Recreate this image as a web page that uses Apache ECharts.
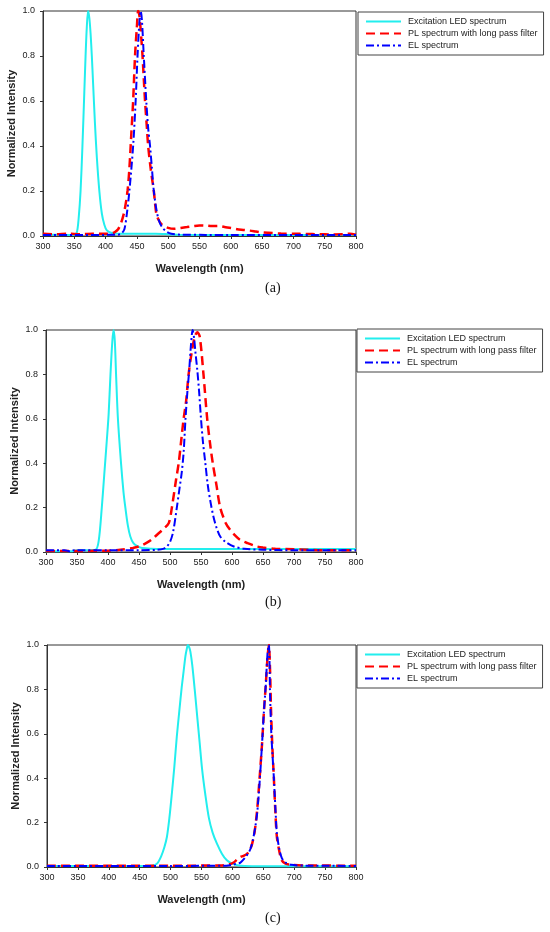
<!DOCTYPE html>
<html>
<head>
<meta charset="utf-8">
<script src="https://cdn.jsdelivr.net/npm/echarts@6/dist/echarts.min.js"></script>
<style>
    html, body { margin: 0; padding: 0; background: #fff; }
    #chart { width: 550px; height: 932px; }
</style>
</head>
<body>
<div id="chart"></div>
<script>
//////////////////////////////////////////////////////////////////
// [ Data ]

const seriesNames = ['Excitation LED spectrum', 'PL spectrum with long pass filter', 'EL spectrum'];
const xTicks = { min: 300, max: 800, step: 50 };
const yTicks = { min: 0, max: 1, step: 0.2 };
const captions = ['a', 'b', 'c'];

// (a)
const exA_wl = [300, 320, 340, 350, 354, 357, 360, 363, 366, 368, 370, 372, 374, 376, 378, 380, 383, 386, 390, 394, 398, 402, 410, 420, 450, 480, 500, 520, 600, 700, 800];
const exA_v  = [0.006, 0.006, 0.005, 0.006, 0.015, 0.08, 0.2, 0.4, 0.64, 0.8, 0.93, 1.0, 0.97, 0.9, 0.8, 0.68, 0.5, 0.35, 0.2, 0.1, 0.05, 0.025, 0.013, 0.01, 0.01, 0.01, 0.008, 0.005, 0.004, 0.004, 0.004];

const plA_wl = [300, 320, 340, 360, 380, 400, 410, 415, 420, 425, 430, 435, 438, 441, 444, 447, 450, 452, 454, 457, 459, 463, 466, 468, 472, 477, 481, 485, 490, 500, 510, 520, 530, 540, 550, 560, 570, 580, 590, 600, 610, 620, 630, 640, 650, 660, 680, 700, 720, 740, 760, 780, 790, 800];
const plA_v  = [0.01, 0.008, 0.01, 0.008, 0.01, 0.01, 0.012, 0.018, 0.03, 0.06, 0.11, 0.2, 0.3, 0.45, 0.6, 0.8, 0.93, 1.0, 0.98, 0.88, 0.8, 0.6, 0.48, 0.4, 0.3, 0.2, 0.1, 0.07, 0.05, 0.036, 0.032, 0.036, 0.04, 0.044, 0.047, 0.046, 0.044, 0.045, 0.04, 0.036, 0.03, 0.027, 0.024, 0.02, 0.016, 0.014, 0.011, 0.01, 0.009, 0.008, 0.007, 0.008, 0.01, 0.006];

const elA_wl = [300, 350, 400, 420, 425, 430, 434, 438, 444, 448, 451, 454, 456, 458, 461, 465, 468, 471, 474, 477, 481, 485, 490, 497, 505, 520, 560, 600, 700, 800];
const elA_v  = [0.005, 0.005, 0.005, 0.006, 0.01, 0.03, 0.1, 0.2, 0.4, 0.6, 0.8, 0.95, 1.0, 0.96, 0.8, 0.6, 0.48, 0.4, 0.3, 0.2, 0.12, 0.07, 0.04, 0.02, 0.01, 0.006, 0.005, 0.005, 0.004, 0.004];

// (b)
const exB_wl = [300, 340, 350, 370, 380, 385, 390, 394, 398, 401, 404, 407, 409, 411, 413, 416, 421, 425, 428, 432, 436, 441, 448, 455, 470, 500, 600, 700, 800];
const exB_v  = [0.003, 0.003, 0.008, 0.008, 0.01, 0.05, 0.2, 0.35, 0.5, 0.62, 0.8, 0.95, 1.0, 0.95, 0.8, 0.6, 0.4, 0.27, 0.2, 0.12, 0.07, 0.04, 0.025, 0.018, 0.015, 0.013, 0.013, 0.013, 0.013];

const plB_wl = [300, 350, 400, 420, 440, 450, 460, 470, 480, 490, 498, 503, 510, 514, 518, 522, 526, 530, 535, 540, 544, 548, 554, 560, 565, 569, 575, 581, 590, 597, 605, 613, 625, 640, 650, 670, 700, 750, 800];
const plB_v  = [0.005, 0.005, 0.006, 0.01, 0.018, 0.025, 0.038, 0.055, 0.08, 0.105, 0.13, 0.2, 0.33, 0.4, 0.5, 0.6, 0.68, 0.8, 0.9, 0.97, 0.99, 0.97, 0.8, 0.6, 0.48, 0.4, 0.3, 0.2, 0.13, 0.1, 0.075, 0.055, 0.04, 0.025, 0.02, 0.015, 0.012, 0.008, 0.008];

const elB_wl = [300, 330, 340, 345, 360, 400, 450, 480, 490, 495, 500, 505, 511, 515, 519, 522, 525, 528, 531, 534, 536.5, 539, 541, 544, 547, 550, 553, 557, 561, 565, 570, 575, 581, 590, 603, 620, 650, 700, 750, 800];
const elB_v  = [0.008, 0.008, 0.002, 0.008, 0.008, 0.008, 0.008, 0.01, 0.015, 0.025, 0.045, 0.09, 0.2, 0.28, 0.36, 0.45, 0.6, 0.72, 0.82, 0.94, 1.0, 0.96, 0.9, 0.82, 0.72, 0.6, 0.5, 0.4, 0.3, 0.23, 0.16, 0.11, 0.07, 0.045, 0.025, 0.015, 0.01, 0.008, 0.008, 0.008];

// (c)
const exC_wl = [300, 400, 460, 470, 478, 485, 490, 494, 498, 502, 506, 510, 514, 518, 521, 524, 526, 528, 530, 532, 535, 539, 543, 547, 551, 556, 562, 568, 575, 583, 591, 600, 608, 620, 650, 700, 800];
const exC_v  = [0.004, 0.004, 0.004, 0.006, 0.015, 0.05, 0.09, 0.135, 0.22, 0.33, 0.45, 0.586, 0.7, 0.81, 0.88, 0.95, 0.98, 1.0, 0.99, 0.97, 0.91, 0.8, 0.68, 0.56, 0.44, 0.33, 0.22, 0.155, 0.105, 0.06, 0.03, 0.015, 0.008, 0.004, 0.003, 0.003, 0.003];

const plC_wl = [300, 400, 500, 580, 595, 602, 608, 613, 618, 624, 628, 632, 636, 640, 644, 648, 651, 654, 657, 659, 661, 662.5, 664.5, 667, 669.5, 672, 676, 680, 686, 695, 720, 800];
const plC_v  = [0.006, 0.006, 0.006, 0.007, 0.012, 0.02, 0.035, 0.045, 0.05, 0.06, 0.075, 0.105, 0.16, 0.256, 0.4, 0.556, 0.7, 0.82, 0.95, 1.0, 0.88, 0.707, 0.55, 0.406, 0.25, 0.135, 0.07, 0.03, 0.015, 0.01, 0.007, 0.006];

const elC_wl = [300, 400, 500, 590, 600, 607, 613, 620, 625, 629, 633, 637, 640, 644, 648, 651, 654, 657, 659, 661, 663, 665, 667, 669.5, 672, 676, 680, 686, 695, 720, 800];
const elC_v  = [0.005, 0.005, 0.005, 0.006, 0.01, 0.015, 0.02, 0.04, 0.06, 0.08, 0.12, 0.18, 0.24, 0.38, 0.556, 0.7, 0.82, 0.97, 1.0, 0.77, 0.6, 0.5, 0.406, 0.27, 0.15, 0.08, 0.04, 0.02, 0.01, 0.006, 0.005];

const panels = [
    [[exA_wl, exA_v], [plA_wl, plA_v], [elA_wl, elA_v]],
    [[exB_wl, exB_v], [plB_wl, plB_v], [elB_wl, elB_v]],
    [[exC_wl, exC_v], [plC_wl, plC_v], [elC_wl, elC_v]]
];

//////////////////////////////////////////////////////////////////
// [ Layout ]

const grids = [
    { left: 43, top: 11, width: 313, height: 225 },
    { left: 46, top: 330, width: 310, height: 222 },
    { left: 47, top: 645, width: 309, height: 222 }
];
const legendPos = [
    { left: 358, top: 12 },
    { left: 357, top: 329 },
    { left: 357, top: 645 }
];
const captionY = [289, 603, 919];

const lineStyles = [
    { color: '#22eeee', width: 2, type: 'solid' },
    { color: '#ff0000', width: 2.5, type: [9, 5] },
    { color: '#0000ff', width: 2, type: [8, 3, 2, 3] }
];

const font = 'Liberation Sans, Arial, sans-serif';

function zip(xs, ys) {
    return xs.map((x, i) => [x, ys[i]]);
}

//////////////////////////////////////////////////////////////////
// [ Chart ]

const chart = echarts.init(document.getElementById('chart'));

const xAxes = grids.map((g, i) => ({
    type: 'value',
    gridIndex: i,
    min: xTicks.min,
    max: xTicks.max,
    interval: xTicks.step,
    name: 'Wavelength (nm)',
    nameLocation: 'middle',
    nameGap: 27,
    nameTextStyle: { fontFamily: font, fontSize: 11, fontWeight: 'bold', color: '#222' },
    axisLine: { lineStyle: { color: '#333', width: 1 } },
    axisTick: { show: true, length: 3, lineStyle: { color: '#333' } },
    axisLabel: { fontFamily: font, fontSize: 9, color: '#222', margin: 6 },
    splitLine: { show: false }
}));

const yAxes = grids.map((g, i) => ({
    type: 'value',
    gridIndex: i,
    min: yTicks.min,
    max: yTicks.max,
    interval: yTicks.step,
    name: 'Normalized Intensity',
    nameLocation: 'middle',
    nameGap: 26,
    nameMoveOverlap: false,
    nameTextStyle: { fontFamily: font, fontSize: 11, fontWeight: 'bold', color: '#222' },
    axisLine: { show: true, lineStyle: { color: '#333', width: 1 } },
    axisTick: { show: true, length: 3, lineStyle: { color: '#333' } },
    axisLabel: { fontFamily: font, fontSize: 9, color: '#222', margin: 8, formatter: v => v.toFixed(1) },
    splitLine: { show: false }
}));

const series = [];
panels.forEach((panel, p) => {
    panel.forEach((pair, s) => {
        series.push({
            name: seriesNames[s],
            type: 'line',
            xAxisIndex: p,
            yAxisIndex: p,
            data: zip(pair[0], pair[1]),
            symbol: 'none',
            smooth: 0.3,
            lineStyle: lineStyles[s],
            itemStyle: { color: lineStyles[s].color },
            z: 3 + s,
            animation: false
        });
    });
});

// legend: line sample only, no marker
const legends = legendPos.map(pos => ({
    left: pos.left,
    top: pos.top,
    orient: 'vertical',
    data: seriesNames,
    itemWidth: 35,
    itemHeight: 8,
    itemGap: 3,
    padding: [5, 6, 5, 7],
    borderColor: '#444',
    borderWidth: 1,
    backgroundColor: '#fff',
    selectedMode: false,
    itemStyle: { opacity: 0 },
    textStyle: { fontFamily: font, fontSize: 9, color: '#222', padding: [0, 0, 0, 2] }
}));

const captionText = captions.map((c, i) => ({
    type: 'text',
    left: 265,
    top: captionY[i] - 8,
    style: {
        text: '(' + c + ')',
        fontFamily: 'Liberation Serif, Times New Roman, serif',
        fontSize: 14,
        fill: '#111'
    }
}));

chart.setOption({
    animation: false,
    grid: grids.map(g => Object.assign({
        show: true,
        borderColor: '#333',
        borderWidth: 1,
        backgroundColor: 'transparent',
        outerBoundsMode: 'none'
    }, g)),
    xAxis: xAxes,
    yAxis: yAxes,
    legend: legends,
    series: series,
    graphic: captionText
});

window.addEventListener('resize', () => chart.resize());
</script>
</body>
</html>
